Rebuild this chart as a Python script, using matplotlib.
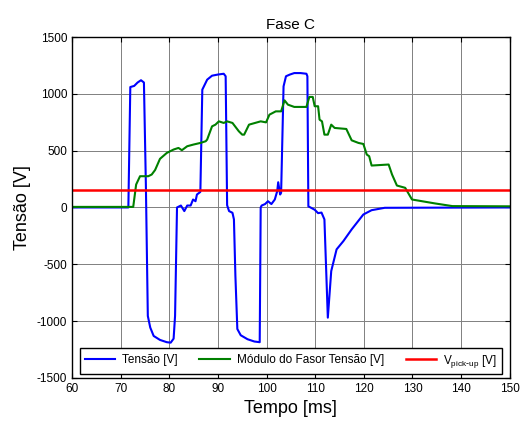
import matplotlib.pyplot as plt

plt.rcParams['font.family'] = ['Liberation Sans', 'DejaVu Sans']
plt.rcParams['axes.unicode_minus'] = False

# Tensão (blue)
t_v = [60, 71.6, 72.0, 72.8, 73.5, 74.2, 74.8, 75.2, 75.6, 76.1, 76.8, 78.1, 79.5, 80.3, 80.9,
       81.2, 81.6, 82.4, 83.1, 83.7, 84.4, 84.9, 85.4, 85.7, 86.4, 86.8, 87.8, 88.8, 90.0,
       91.2, 91.6, 91.9, 92.3, 93.0, 93.3, 93.6, 94.0, 94.7, 96.1, 97.5, 98.6, 98.8, 99.0,
       99.7, 100.3, 101.0, 101.7, 102.2, 102.4, 102.8, 103.0, 103.5, 104.0, 104.8, 105.7,
       107.0, 108.2, 108.4, 108.6, 109.9, 110.6, 111.3, 111.9, 112.6, 113.3, 114.4, 115.8,
       117.5, 119.9, 121.6, 124.3, 150]
v_v = [0, 0, 1060, 1070, 1100, 1120, 1100, 200, -955, -1057, -1131, -1166, -1186, -1190, -1155,
       -955, 0, 17, -32, 17, 17, 70, 55, 114, 137, 1037, 1125, 1160, 1170,
       1177, 1155, 20, -32, -47, -105, -600, -1070, -1125, -1160, -1180, -1186, 0, 17,
       30, 55, 30, 70, 144, 222, 114, 130, 1066, 1155, 1170, 1183,
       1183, 1177, 1155, 10, -20, -50, -45, -105, -970, -560, -369, -296,
       -193, -62, -24, -3, 0]

# Módulo do Fasor Tensão (green)
t_m = [60, 72.6, 73.2, 74.0, 75.7, 76.4, 77.1, 78.1, 79.5, 80.9, 81.9, 82.6, 83.7, 85.0, 86.4,
       87.5, 87.8, 88.8, 89.5, 90.2, 91.2, 91.9, 93.0, 94.3, 95.0, 95.4, 96.4, 98.8, 99.9,
       100.6, 101.9, 103.0, 103.7, 104.4, 105.7, 108.2, 108.8, 109.5, 109.9, 110.6, 110.9,
       111.4, 111.9, 112.6, 113.3, 114.0, 116.4, 117.5, 118.9, 119.9, 120.6, 121.1, 121.6,
       125.1, 125.8, 126.8, 128.5, 129.9, 134.7, 138.2, 150]
v_m = [5, 5, 202, 275, 275, 290, 330, 428, 480, 510, 524, 504, 539, 554, 568, 583,
       598, 714, 729, 758, 744, 758, 744, 671, 641, 641, 729, 758, 749,
       817, 846, 846, 943, 905, 885, 885, 973, 973, 891, 891, 773,
       758, 641, 641, 729, 700, 691, 591, 568, 559, 466, 451, 369,
       378, 290, 193, 173, 70, 35, 12, 10]

v_pickup = 158

fig, ax = plt.subplots(figsize=(5.25, 4.26), dpi=100)
fig.subplots_adjust(left=0.137, right=0.971, top=0.913, bottom=0.113)

ax.plot(t_v, v_v, color='#0000ff', lw=1.5, label='Tensão [V]')
ax.plot(t_m, v_m, color='#008000', lw=1.5, label='Módulo do Fasor Tensão [V]')
ax.axhline(v_pickup, color='#ff0000', lw=1.8, label=r'V$_{\mathregular{pick\text{-}up}}$ [V]')

ax.set_xlim(60, 150)
ax.set_ylim(-1500, 1500)
ax.set_xticks(range(60, 151, 10))
ax.set_yticks(range(-1500, 1501, 500))
ax.grid(True, color='#808080', lw=0.7)
ax.tick_params(direction='in', labelsize=8.5, top=True, right=True)
for s in ax.spines.values():
    s.set_linewidth(1.0)

ax.set_title('Fase C', fontsize=11)
ax.set_xlabel('Tempo [ms]', fontsize=13)
ax.set_ylabel('Tensão [V]', fontsize=13)

leg = ax.legend(loc='lower center', ncol=3, fontsize=8.5, frameon=True, fancybox=False,
                edgecolor='black', framealpha=1, borderaxespad=0.3, columnspacing=0.8,
                handlelength=2.6, handletextpad=0.6, mode='expand',
                bbox_to_anchor=(0.01, 0.0, 0.98, 0.1))
leg.get_frame().set_linewidth(1.0)

fig.savefig('out.png')
